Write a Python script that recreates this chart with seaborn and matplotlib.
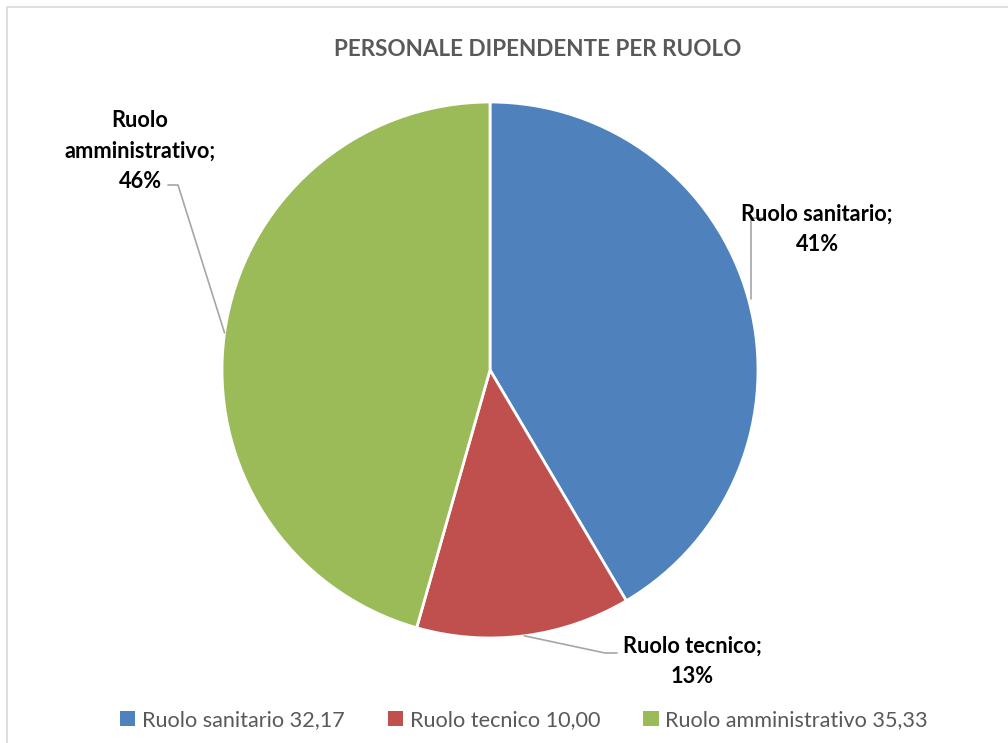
import numpy as np
import matplotlib
matplotlib.use("Agg")
import matplotlib.pyplot as plt
from matplotlib.patches import Rectangle, Patch
import seaborn as sns

categories = ["Ruolo sanitario", "Ruolo tecnico", "Ruolo amministrativo"]
values = [32.17, 10.00, 35.33]
pct_labels = [41, 13, 46]
label_texts = ["Ruolo sanitario;", "Ruolo tecnico;", "Ruolo\namministrativo;"]
title = "PERSONALE DIPENDENTE PER RUOLO"

sns.set_theme(style="white")
plt.rcParams["font.family"] = ["Lato", "DejaVu Sans"]
colors = sns.color_palette(["#4F81BD", "#C0504D", "#9BBB59"])

W, H = 1008, 743
fig = plt.figure(figsize=(W / 100, H / 100), dpi=100)
fig.patch.set_facecolor("white")

# outer frame
fig.add_artist(Rectangle((7 / W, -0.1), 1.2, 1 - 7 / H + 0.1, transform=fig.transFigure,
                         fill=False, edgecolor="#D9D9D9", linewidth=1.2))

cx, cy, R = 490, 370, 268
ax = fig.add_axes([(cx - R) / W, (H - cy - R) / H, 2 * R / W, 2 * R / H])
wedges, _ = ax.pie(values, colors=colors, startangle=90, counterclock=False,
                   radius=1, wedgeprops=dict(edgecolor="white", linewidth=2))
ax.set_xlim(-1, 1)
ax.set_ylim(-1, 1)
ax.set_aspect("equal")
ax.axis("off")

def px(x, y):
    return ((x - cx) / R, (cy - y) / R)

# label layout: (text centre, elbow, end of leader) in pixel space
layouts = [
    ((817, 229), (751, 218), (763, 218)),
    ((692, 661), (605, 653), (617, 653)),
    ((140, 151), (178, 185), (168, 185)),
]

for w, txt, p, (tc, el, en) in zip(wedges, label_texts, pct_labels, layouts):
    ang = np.deg2rad((w.theta1 + w.theta2) / 2)
    sx, sy = np.cos(ang), np.sin(ang)
    ex, ey = px(*el)
    nx, ny = px(*en)
    if txt.startswith("Ruolo sanitario"):
        sx, sy = ex, sy
    ax.plot([sx, ex, nx], [sy, ey, ny], color="#A6A6A6", lw=1.2, clip_on=False)
    tx, ty = px(*tc)
    ax.text(tx, ty, f"{txt}\n{p}%", ha="center", va="center", fontsize=15.7,
            fontweight="bold", color="black", linespacing=1.55)

fig.text(538 / W, 1 - 49 / H, title, ha="center", va="center", fontsize=16.2,
         fontweight="bold", color="#595959")

handles = [Patch(facecolor=c, edgecolor="none") for c in colors]
labels = [f"{c} {v:.2f}".replace(".", ",") for c, v in zip(categories, values)]
fig.legend(handles, labels, loc="center", bbox_to_anchor=(524 / W, 1 - 720 / H), ncol=3,
           frameon=False, fontsize=15.6, handlelength=0.7, handleheight=0.7,
           handletextpad=0.3, columnspacing=2.0, labelcolor="#595959")

fig.savefig("out.png", dpi=100)
